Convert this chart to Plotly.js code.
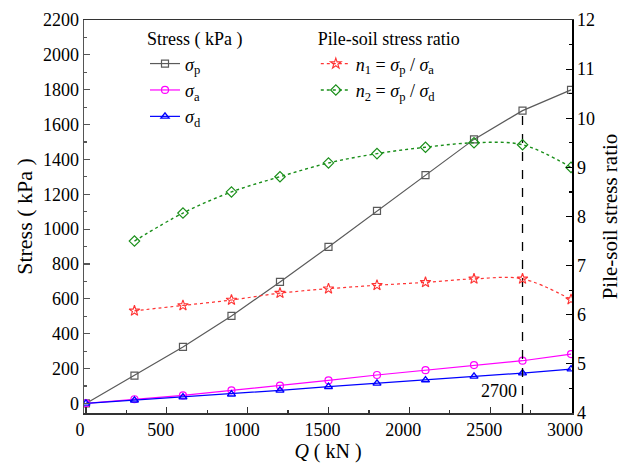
<!DOCTYPE html>
<html>
<head>
<meta charset="utf-8">
<script src="https://cdn.plot.ly/plotly-3.0.1.min.js"></script>
<style>
html,body{margin:0;padding:0;background:#fff;}
#chart{width:630px;height:465px;}
#chart text{font-family:"Liberation Serif" !important;}
</style>
</head>
<body>
<div id="chart"></div>
<script>
// Load Q (kN)
const Q = [0, 300, 600, 900, 1200, 1500, 1800, 2100, 2400, 2700, 3000];
// Stresses (kPa)
const sigmaP = [0, 160, 324, 502, 697, 898, 1105, 1310, 1515, 1680, 1799];
const sigmaA = [0, 24, 46, 75, 102, 132, 163, 191, 220, 245, 283];
const sigmaD = [0, 18, 36, 53, 75, 96, 115, 134, 155, 174, 197];
// Pile-soil stress ratios (from Q = 300)
const Qn = [300, 600, 900, 1200, 1500, 1800, 2100, 2400, 2700, 3000];
const n1 = [6.08, 6.19, 6.30, 6.44, 6.53, 6.60, 6.66, 6.73, 6.73, 6.31];
const n2 = [7.50, 8.07, 8.50, 8.81, 9.09, 9.28, 9.41, 9.50, 9.46, 9.00];
// Marked load
const markIndex = 9;
const markLabel = "2700";

const traces = [
  {x: Q, y: sigmaP, name: "<i>σ</i><sub>p</sub>", mode: "lines+markers", legend: "legend",
   line: {color: "#5a5a5a", width: 1.2}, marker: {symbol: "square-open", size: 7, color: "#5a5a5a", line: {width: 1.2}}},
  {x: Q, y: sigmaA, name: "<i>σ</i><sub>a</sub>", mode: "lines+markers", legend: "legend",
   line: {color: "#ff00ff", width: 1.2}, marker: {symbol: "circle-open", size: 7, color: "#ff00ff", line: {width: 1.2}}},
  {x: Q, y: sigmaD, name: "<i>σ</i><sub>d</sub>", mode: "lines+markers", legend: "legend",
   line: {color: "#0000ff", width: 1.2}, marker: {symbol: "triangle-up-open", size: 7, color: "#0000ff", line: {width: 1.4}}},
  {x: Qn, y: n1, name: "<i>n</i><sub>1</sub> = <i>σ</i><sub>p</sub> / <i>σ</i><sub>a</sub>", mode: "lines+markers", yaxis: "y2", legend: "legend2",
   line: {color: "#ff3333", width: 1.2, dash: "dot", shape: "spline"}, marker: {symbol: "star-open", size: 8, color: "#ff3333", line: {width: 1.1}}},
  {x: Qn, y: n2, name: "<i>n</i><sub>2</sub> = <i>σ</i><sub>p</sub> / <i>σ</i><sub>d</sub>", mode: "lines+markers", yaxis: "y2", legend: "legend2",
   line: {color: "#1a8f1a", width: 1.4, dash: "dot", shape: "spline"}, marker: {symbol: "diamond-open", size: 8, color: "#1a8f1a", line: {width: 1.2}}},
  {x: [Q[markIndex], Q[markIndex]], y: [-55, sigmaP[markIndex]], mode: "lines", showlegend: false, hoverinfo: "skip",
   line: {color: "#000", width: 1.3, dash: "dash"}}
];

const layout = {
  width: 630, height: 465,
  margin: {l: 84, r: 58, t: 20, b: 52},
  paper_bgcolor: "#fff", plot_bgcolor: "#fff",
  font: {family: "Liberation Serif", size: 18, color: "#000"},
  showlegend: true,
  xaxis: {
    range: [-12, 3006], tickvals: [0, 500, 1000, 1500, 2000, 2500, 3000],
    ticks: "inside", ticklen: 6, tickwidth: 1.2, tickcolor: "#333",
    minor: {tickvals: [250, 750, 1250, 1750, 2250, 2750], ticks: "inside", ticklen: 3, tickcolor: "#333"},
    showline: true, linecolor: "#333", linewidth: 1.5, mirror: true,
    showgrid: false, zeroline: false, ticklabelshift: -6,
    tickfont: {size: 18},
    title: {text: "<i>Q</i> ( kN )", font: {size: 20}, standoff: 2}
  },
  yaxis: {
    range: [-55, 2200], dtick: 200, tick0: 0,
    ticks: "inside", ticklen: 6, tickwidth: 1.2, tickcolor: "#555",
    minor: {dtick: 100, ticks: "inside", ticklen: 3, tickcolor: "#555"},
    showline: true, linecolor: "#555", linewidth: 1.5,
    showgrid: false, zeroline: false,
    tickfont: {size: 18},
    title: {text: "Stress ( kPa )", font: {size: 22}, standoff: 4}
  },
  yaxis2: {
    overlaying: "y", side: "right", range: [4, 12], dtick: 1,
    ticks: "inside", ticklen: 6, tickwidth: 1.2, tickcolor: "#000",
    minor: {dtick: 0.5, ticks: "inside", ticklen: 3, tickcolor: "#000"},
    showline: true, linecolor: "#000", linewidth: 1.5,
    showgrid: false, zeroline: false,
    tickfont: {size: 18},
    title: {text: "Pile-soil stress ratio", font: {size: 21}, standoff: 8}
  },
  legend: {
    x: 0.125, y: 0.995, xanchor: "left", yanchor: "top",
    bgcolor: "rgba(0,0,0,0)", borderwidth: 0, tracegroupgap: 0, itemwidth: 30,
    font: {size: 18},
    title: {text: "Stress ( kPa )", font: {size: 18}}
  },
  legend2: {
    x: 0.475, y: 0.995, xanchor: "left", yanchor: "top",
    bgcolor: "rgba(0,0,0,0)", borderwidth: 0, tracegroupgap: 0, itemwidth: 30,
    font: {size: 18},
    title: {text: "Pile-soil stress ratio", font: {size: 18}}
  },
  annotations: [
    {x: Q[markIndex], y: 0, xref: "x", yref: "y", text: markLabel, showarrow: false,
     xanchor: "right", yanchor: "bottom", xshift: -4, yshift: 0, font: {size: 18}}
  ]
};

Plotly.newPlot("chart", traces, layout, {displayModeBar: false, staticPlot: true});
</script>
</body>
</html>
